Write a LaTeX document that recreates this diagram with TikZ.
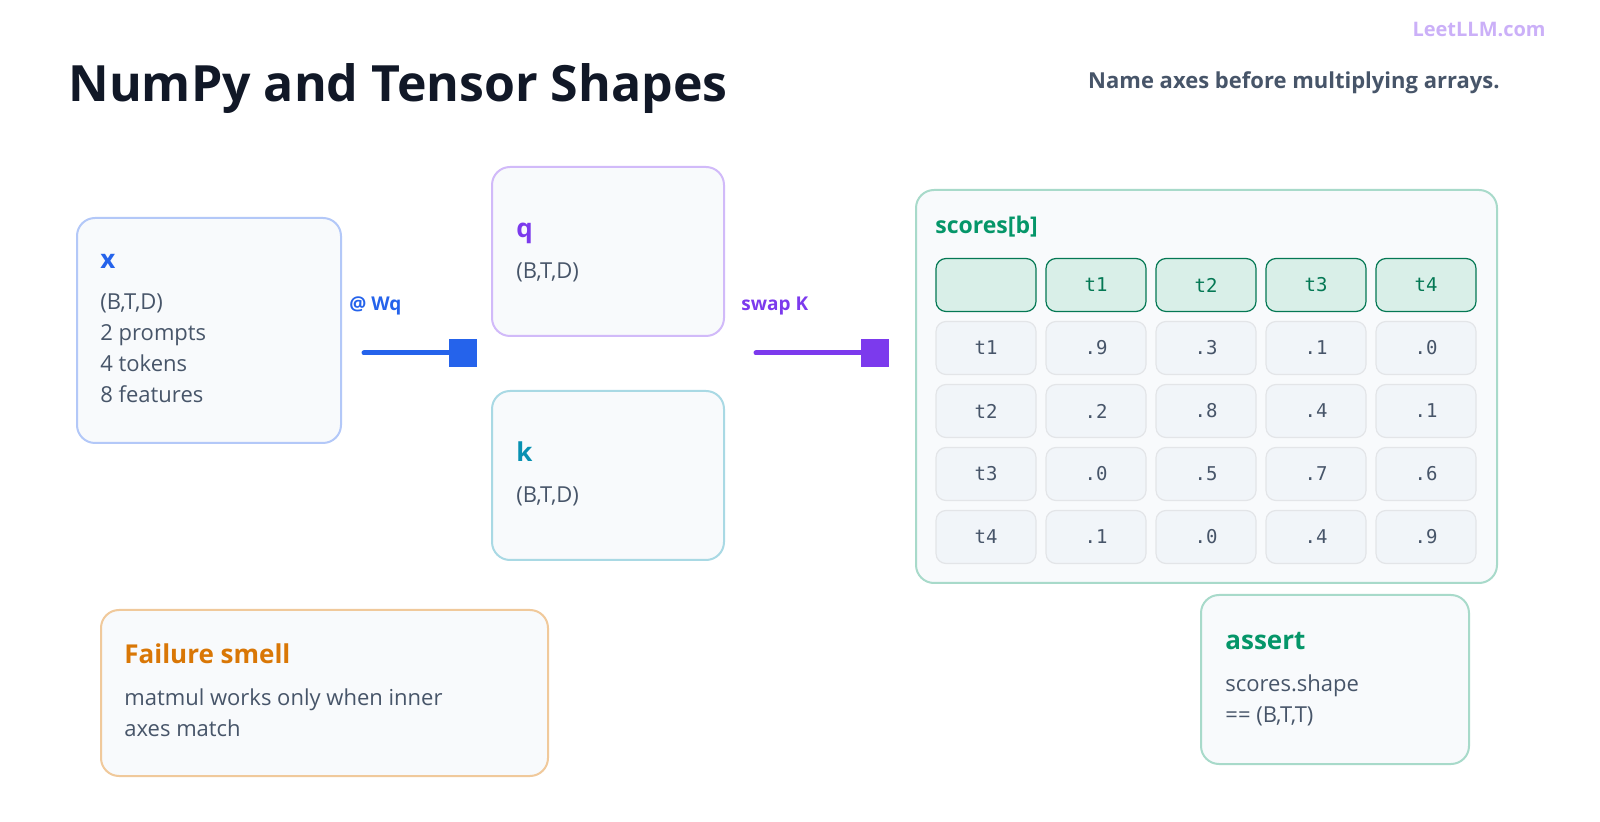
\documentclass[tikz,border=0pt]{standalone}
\usepackage{fontspec}
\setmainfont{Open Sans}
\setmonofont{DejaVu Sans Mono}
\usetikzlibrary{positioning}
\definecolor{ink}{HTML}{111827}
\definecolor{slate}{HTML}{475569}
\definecolor{bluec}{HTML}{2563EB}
\definecolor{purp}{HTML}{7C3AED}
\definecolor{cyanc}{HTML}{0891B2}
\definecolor{greenc}{HTML}{059669}
\definecolor{orangec}{HTML}{D97706}
\definecolor{panel}{HTML}{F8FAFC}
\definecolor{cell}{HTML}{F1F5F9}
\tikzset{
  card/.style={draw=#1, line width=1pt, fill=panel, rounded corners=9pt, anchor=north west, inner sep=0pt},
  head/.style={font=\bfseries\fontsize{13}{15}\selectfont, text=#1, anchor=base west, inner sep=0pt},
  body/.style={font=\fontsize{11}{15.5}\selectfont, text=slate, anchor=north west, align=left, inner sep=0pt},
  cellbox/.style={draw=#1, line width=0.6pt, rounded corners=5pt, minimum width=50pt, minimum height=26.5pt, font=\ttfamily\fontsize{9.5}{11}\selectfont, inner sep=0pt},
  endsq/.style={fill=#1, minimum size=14pt, inner sep=0pt},
  wire/.style={line width=2.5pt, draw=#1, line cap=round},
}
\begin{document}
\begin{tikzpicture}[x=0.5pt,y=-0.5pt]
\useasboundingbox (0,0) rectangle (1600,822);
% title
\node[font=\bfseries\fontsize{25}{28}\selectfont, text=ink, anchor=base west, inner sep=0pt] (title) at (68,102) {NumPy and Tensor Shapes};
\node[font=\bfseries\fontsize{11}{13}\selectfont, text=slate, anchor=base east, inner sep=0pt] (sub) at (1500,89) {Name axes before multiplying arrays.};
\node[font=\bfseries\fontsize{10}{12}\selectfont, text=purp!40, anchor=base east, inner sep=0pt] (logo) at (1546,37) {LeetLLM.com};

% x
\node[card=bluec!35, minimum width=132pt, minimum height=112.5pt] (xbox) at (76,217) {};
\node[head=bluec] (xname) at (100,269) {x};
\node[body] (xtxt) at (100,293) {(B,T,D)\\2 prompts\\4 tokens\\8 features};

% q and k
\node[card=purp!35, minimum width=116pt, minimum height=84.5pt] (qbox) at (491,166) {};
\node[head=purp] (qname) at (516,238) {q};
\node[body] (qtxt) at (516,262) {(B,T,D)};
\node[card=cyanc!35, minimum width=116pt, minimum height=84.5pt] (kbox) at (491,390) {};
\node[head=cyanc] (kname) at (516,462) {k};
\node[body] (ktxt) at (516,486) {(B,T,D)};

% connectors
\node[font=\bfseries\fontsize{9.5}{11}\selectfont, text=bluec, anchor=base west, inner sep=0pt] (wq) at (349,311) {@ Wq};
\coordinate (wqs) at (364,353);
\node[endsq=bluec] (wqe) at (463,353) {};
\draw[wire=bluec] (wqs) -- (wqe.west);
\node[font=\bfseries\fontsize{9.5}{11}\selectfont, text=purp, anchor=base west, inner sep=0pt] (swk) at (741,311) {swap K};
\coordinate (swks) at (756,353);
\node[endsq=purp] (swke) at (875,353) {};
\draw[wire=purp] (swks) -- (swke.west);

% scores
\node[card=greenc!35, minimum width=290.5pt, minimum height=196.5pt] (scbox) at (915,189) {};
\node[font=\bfseries\fontsize{11.5}{13}\selectfont, text=greenc, anchor=base west, inner sep=0pt] (scname) at (935,234) {scores[b]};
\foreach \lab [count=\m] in {,t1,t2,t3,t4} {
  \node[cellbox=greenc!80!black, fill=greenc!15, text=greenc!80!black] (h\m) at (876+110*\m,285) {\lab};
}
\foreach \y [count=\n] in {
    {t1,.9,.3,.1,.0},
    {t2,.2,.8,.4,.1},
    {t3,.0,.5,.7,.6},
    {t4,.1,.0,.4,.9}} {
  \foreach \x [count=\m] in \y {
    \node[cellbox=slate!15, fill=cell, text=slate] (c\n\m) at (876+110*\m,285+63*\n) {\x};
  }
}

% assert
\node[card=greenc!35, minimum width=134pt, minimum height=84.5pt] (asbox) at (1200,594) {};
\node[head=greenc] (asname) at (1225,650) {assert};
\node[body] (astxt) at (1225,674) {scores.shape\\== (B,T,T)};

% failure
\node[card=orangec!40, minimum width=223.5pt, minimum height=83pt] (fbox) at (100,609) {};
\node[head=orangec] (fname) at (124,664) {Failure smell};
\node[body] (ftxt) at (124,688) {matmul works only when inner\\axes match};
\end{tikzpicture}
\end{document}
